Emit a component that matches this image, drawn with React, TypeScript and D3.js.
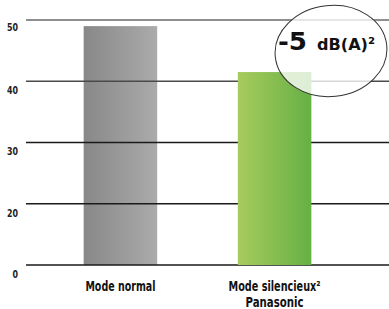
import { useMemo } from "react";
import * as d3 from "d3";

const WIDTH = 389;
const HEIGHT = 309;

const CATEGORIES = ["Mode normal", "Mode silencieux²"];
const CATEGORY_SUB = ["", "Panasonic"];
const VALUES = [49, 41.5];
const GRID_TICKS = [10, 20, 30, 40, 50];
const TICK_LABELS = ["0", "20", "30", "40", "50"];

const FONT = "'DejaVu Sans', sans-serif";

// rough condensed look: squeeze glyphs to a given width
const squeeze = (s: string, perChar: number) => s.length * perChar;

export default function App() {
  const y = useMemo(() => d3.scaleLinear().domain([10, 50]).range([265, 20]), []);
  const x = useMemo(
    () => d3.scaleBand<string>().domain(CATEGORIES).range([22, 373]).paddingInner(0.523).paddingOuter(0.4),
    []
  );

  const gridColor = (t: number) => (t === 50 ? "#6a6a6a" : t === 40 ? "#4a4a4a" : "#1a1a1a");

  const bar = (i: number) => {
    const c = CATEGORIES[i];
    return (
      <rect
        key={c}
        x={x(c)}
        y={y(VALUES[i])}
        width={x.bandwidth()}
        height={y(10) - y(VALUES[i])}
        fill={i === 0 ? "url(#gGrey)" : "url(#gGreen)"}
      />
    );
  };

  const labelW = [70, 92];
  const subW = [0, 58];

  return (
    <svg
      width={WIDTH}
      height={HEIGHT}
      style={{ position: "absolute", left: 0, top: 0, background: "#fff" }}
      fontFamily={FONT}
    >
      <defs>
        <linearGradient id="gGrey" x1="0" x2="1" y1="0" y2="0">
          <stop offset="0" stopColor="#888888" />
          <stop offset="1" stopColor="#ababab" />
        </linearGradient>
        <linearGradient id="gGreen" x1="0" x2="1" y1="0" y2="0">
          <stop offset="0" stopColor="#a8cb5c" />
          <stop offset="1" stopColor="#66b045" />
        </linearGradient>
      </defs>

      {bar(0)}

      {GRID_TICKS.map((t, i) => {
        const w = squeeze(TICK_LABELS[i], 5.5);
        return (
          <g key={t}>
            <line
              x1={26}
              x2={WIDTH}
              y1={y(t)}
              y2={y(t)}
              stroke={gridColor(t)}
              strokeWidth={t >= 40 ? 1.6 : 1.3}
            />
            <text
              x={18 - w}
              y={y(t) + (t === 50 ? 11 : 12.8)}
              fontSize={11}
              fontWeight={700}
              fill="#222"
              textLength={w}
              lengthAdjust="spacingAndGlyphs"
            >
              {TICK_LABELS[i]}
            </text>
          </g>
        );
      })}

      {bar(1)}

      {CATEGORIES.map((c, i) => {
        const cx = (x(c) ?? 0) + x.bandwidth() / 2;
        const w = labelW[i];
        return (
          <g key={c}>
            <text
              x={cx - w / 2}
              y={290.5}
              fontSize={14}
              fontWeight={700}
              fill="#111"
              textLength={w}
              lengthAdjust="spacingAndGlyphs"
            >
              {c}
            </text>
            {CATEGORY_SUB[i] && (
              <text
                x={cx - subW[i] / 2}
                y={307}
                fontSize={14}
                fontWeight={700}
                fill="#111"
                textLength={subW[i]}
                lengthAdjust="spacingAndGlyphs"
              >
                {CATEGORY_SUB[i]}
              </text>
            )}
          </g>
        );
      })}

      <ellipse
        cx={331}
        cy={51}
        rx={56}
        ry={45.5}
        transform="rotate(-6 331 51)"
        fill="#fff"
        fillOpacity={0.78}
        stroke="#333"
        strokeWidth={1}
      />
      <g fontWeight={700} fill="#111">
        <text x={278} y={50} fontSize={25} textLength={29} lengthAdjust="spacingAndGlyphs">
          -5
        </text>
        <text x={317} y={50} fontSize={16.5} textLength={58} lengthAdjust="spacingAndGlyphs">
          dB(A)²
        </text>
      </g>
    </svg>
  );
}
